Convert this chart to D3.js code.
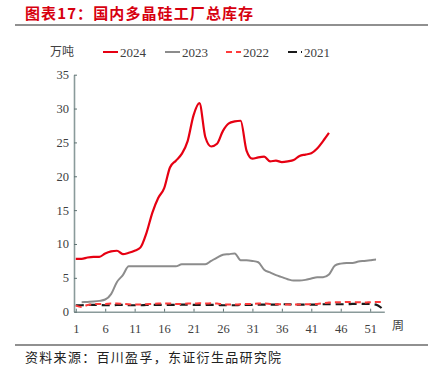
<!DOCTYPE html>
<html lang="zh">
<head>
<meta charset="UTF-8">
<title>国内多晶硅工厂总库存</title>
<script src="https://d3js.org/d3.v7.min.js"></script>
<style>
  body { margin: 0; background: #fff; }
  svg { display: block; }
  .cn { font-family: "Noto Sans CJK SC", sans-serif; }
  .num { font-family: "Liberation Serif", "Times New Roman", serif; }
</style>
</head>
<body>
<svg width="428" height="385"></svg>
<script>
// weekly inventory, 万吨
const weeks2024 = d3.range(1, 45);
const val2024 = [7.8, 7.8, 8.0, 8.1, 8.1, 8.6, 8.9, 9.0, 8.5, 8.7,
                 9.0, 9.5, 11.6, 14.6, 16.8, 18.2, 21.3, 22.3, 23.3, 25.2,
                 29.0, 30.8, 25.8, 24.4, 24.8, 26.7, 27.8, 28.1, 28.2, 23.8,
                 22.6, 22.8, 22.9, 22.2, 22.3, 22.1, 22.2, 22.4, 23.0, 23.2,
                 23.4, 24.1, 25.2, 26.4];

const weeks2023 = d3.range(2, 54);
const val2023 = [1.4, 1.45, 1.5, 1.6, 1.8, 2.6, 4.4, 5.4, 6.7,
                 6.7, 6.7, 6.7, 6.7, 6.7, 6.7, 6.7, 6.7, 7.0, 7.0,
                 7.0, 7.0, 7.0, 7.5, 8.0, 8.4, 8.5, 8.6, 7.6, 7.6,
                 7.5, 7.3, 6.2, 5.8, 5.4, 5.1, 4.8, 4.6, 4.6, 4.7,
                 4.9, 5.1, 5.1, 5.5, 6.8, 7.1, 7.2, 7.2, 7.4, 7.5,
                 7.6, 7.7];

const weeks2022 = d3.range(1, 54);
const val2022 = [0.9, 0.7, 1.0, 1.1, 1.15, 1.15, 1.2, 1.2, 1.15, 1.1,
                 1.05, 1.05, 1.1, 1.15, 1.2, 1.2, 1.2, 1.15, 1.15, 1.2,
                 1.2, 1.25, 1.2, 1.25, 1.2, 1.1, 1.05, 1.05, 1.1, 1.15,
                 1.15, 1.2, 1.2, 1.15, 1.1, 1.1, 1.05, 1.05, 1.05, 1.1,
                 1.1, 1.15, 1.25, 1.35, 1.4, 1.4, 1.45, 1.4, 1.4, 1.35,
                 1.4, 1.45, 1.45];

const weeks2021 = d3.range(1, 54);
const val2021 = [0.95, 0.95, 1.0, 1.0, 1.0, 0.95, 0.95, 1.0, 1.0, 0.95,
                 0.95, 0.95, 1.0, 1.0, 1.0, 1.0, 1.0, 1.0, 1.05, 1.05,
                 1.0, 1.0, 1.0, 1.0, 1.0, 0.95, 0.95, 0.95, 1.0, 1.0,
                 1.0, 1.05, 1.05, 1.05, 1.05, 1.1, 1.1, 1.05, 1.05, 1.05,
                 1.05, 1.05, 1.1, 1.1, 1.1, 1.1, 1.1, 1.15, 1.15, 1.15,
                 1.15, 1.05, 0.5];

const xTicks = [1, 6, 11, 16, 21, 26, 31, 36, 41, 46, 51];
const yTicks = [0, 5, 10, 15, 20, 25, 30, 35];

const series = [
  { name: "2024", weeks: weeks2024, vals: val2024, color: "#e60012", dash: null, width: 2.2 },
  { name: "2023", weeks: weeks2023, vals: val2023, color: "#8c8c8c", dash: null, width: 2 },
  { name: "2022", weeks: weeks2022, vals: val2022, color: "#ff3b3b", dash: "6,4", width: 2 },
  { name: "2021", weeks: weeks2021, vals: val2021, color: "#1a1a1a", dash: "8,5", width: 2.2 }
];

const svg = d3.select("svg");

// title
svg.append("text").attr("class", "cn")
  .attr("x", 25).attr("y", 19)
  .attr("fill", "#d7000f").attr("font-size", 15).attr("font-weight", "bold")
  .attr("letter-spacing", 1.1)
  .text("图表17：国内多晶硅工厂总库存");
svg.append("line").attr("x1", 15).attr("x2", 428).attr("y1", 25).attr("y2", 25)
  .attr("stroke", "#222").attr("stroke-width", 1.2);

// scales
const x = d3.scaleLinear().domain([0.7, 53.4]).range([74, 384.3]);
const y = d3.scaleLinear().domain([0, 35]).range([311.7, 74.7]);

// axes
const gx = svg.append("g").attr("transform", `translate(0,${y(0)})`)
  .call(d3.axisBottom(x).tickValues(xTicks).tickSizeInner(-3).tickSizeOuter(0).tickPadding(12));
const gy = svg.append("g").attr("transform", `translate(${x.range()[0]},0)`)
  .call(d3.axisLeft(y).tickValues(yTicks).tickSizeInner(-3).tickSizeOuter(0).tickPadding(5));

[gx, gy].forEach(g => {
  g.select(".domain").attr("stroke", "#8a9a9a").attr("stroke-width", 1.6);
  g.selectAll(".tick line").attr("stroke", "#5f7373");
  g.selectAll(".tick text").attr("class", "num").attr("font-size", 12.5).attr("fill", "#404040");
});
gx.selectAll(".tick text").attr("dy", "0.71em");

svg.append("text").attr("class", "cn")
  .attr("x", 392).attr("y", 330).attr("font-size", 12).attr("fill", "#404040")
  .text("周");

// lines
const line = d3.line()
  .x(d => x(d[0]))
  .y(d => y(d[1]))
  .curve(d3.curveMonotoneX);

svg.append("g").selectAll("path")
  .data(series.slice().reverse())
  .join("path")
  .attr("d", s => line(s.weeks.map((w, i) => [w, s.vals[i]])))
  .attr("fill", "none")
  .attr("stroke", s => s.color)
  .attr("stroke-width", s => s.width)
  .attr("stroke-dasharray", s => s.dash)
  .attr("stroke-linejoin", "round");

// legend
const legY = 52;
svg.append("text").attr("class", "cn")
  .attr("x", 50).attr("y", legY + 4).attr("font-size", 12).attr("fill", "#404040")
  .text("万吨");

const legX = [103, 165, 226, 288];
const leg = svg.append("g").selectAll("g").data(series).join("g")
  .attr("transform", (d, i) => `translate(${legX[i]},${legY})`);
leg.append("line")
  .attr("x1", 0).attr("x2", (d, i) => i === 3 ? 14 : 15)
  .attr("stroke", d => d.color)
  .attr("stroke-width", 2)
  .attr("stroke-dasharray", (d, i) => i === 3 ? "9,4" : d.dash);
leg.append("text").attr("class", "num")
  .attr("x", (d, i) => i === 3 ? 16 : 17).attr("y", 4.5)
  .attr("font-size", 13).attr("fill", "#404040")
  .text(d => d.name);

// source
svg.append("line").attr("x1", 15).attr("x2", 428).attr("y1", 345).attr("y2", 345)
  .attr("stroke", "#222").attr("stroke-width", 1.2);
svg.append("text").attr("class", "cn")
  .attr("x", 25).attr("y", 362).attr("font-size", 13).attr("fill", "#222")
  .attr("letter-spacing", 1.3)
  .text("资料来源：百川盈孚，东证衍生品研究院");
</script>
</body>
</html>
